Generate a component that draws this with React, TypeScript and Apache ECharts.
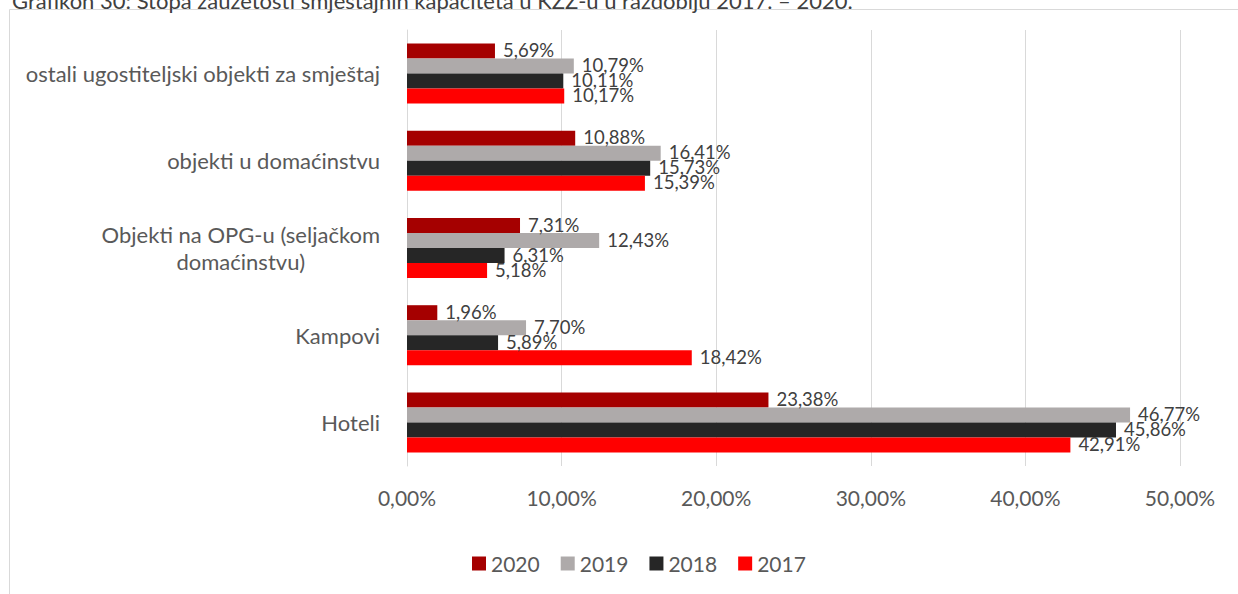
import React, { useEffect, useRef } from "react";
import * as echarts from "echarts";

const titleText = "Grafikon 30: Stopa zauzetosti smještajnih kapaciteta u KZŽ-u u razdoblju 2017. – 2020.";
const categories = [
  "Hoteli",
  "Kampovi",
  "Objekti na OPG-u (seljačkom\ndomaćinstvu)",
  "objekti u domaćinstvu",
  "ostali ugostiteljski objekti za smještaj",
];
const years = ["2020", "2019", "2018", "2017"];
const values2020 = [23.38, 1.96, 7.31, 10.88, 5.69];
const values2019 = [46.77, 7.7, 12.43, 16.41, 10.79];
const values2018 = [45.86, 5.89, 6.31, 15.73, 10.11];
const values2017 = [42.91, 18.42, 5.18, 15.39, 10.17];
const seriesValues = [values2020, values2019, values2018, values2017];
const colors = ["#A50000", "#AEAAAA", "#262626", "#FF0000"];

const FONT = "Lato, 'Open Sans', sans-serif";
const fmt = (v: number) => v.toFixed(2).replace(".", ",") + "%";

export default function App() {
  const ref = useRef<HTMLDivElement>(null);
  useEffect(() => {
    if (!ref.current) return;
    const chart = echarts.init(ref.current, undefined, { renderer: "svg" });
    chart.setOption({
      animation: false,
      backgroundColor: "#ffffff",
      textStyle: { fontFamily: FONT },
      graphic: [
        {
          type: "rect",
          shape: { x: 9.5, y: 9.5, width: 1300, height: 700 },
          style: { fill: "none", stroke: "#d9d9d9", lineWidth: 1 },
          silent: true,
        },
        {
          type: "text",
          x: 12,
          y: 11,
          style: {
            text: titleText,
            font: `22px ${FONT}`,
            fill: "#404040",
            verticalAlign: "bottom",
          },
        },
      ],
      legend: {
        data: years,
        left: 467,
        top: 548,
        icon: "rect",
        itemWidth: 14,
        itemHeight: 14,
        itemGap: 21,
        textStyle: { fontSize: 21, color: "#595959", fontFamily: FONT },
      },
      grid: { left: 407, right: 58, top: 30, bottom: 128, containLabel: false },
      xAxis: {
        type: "value",
        min: 0,
        max: 50,
        interval: 10,
        axisLine: { show: false },
        axisTick: { show: false },
        splitLine: { show: true, lineStyle: { color: "#d9d9d9", width: 1 } },
        axisLabel: {
          formatter: (v: number) => fmt(v),
          color: "#595959",
          fontSize: 21,
          margin: 21,
          fontFamily: FONT,
        },
      },
      yAxis: {
        type: "category",
        data: categories,
        axisLine: { show: true, lineStyle: { color: "#d9d9d9" } },
        axisTick: { show: false },
        axisLabel: {
          color: "#595959",
          fontSize: 22,
          margin: 27,
          align: "right",
          lineHeight: 27,
          fontFamily: FONT,
          formatter: (v: string) =>
            v
              .split("\n")
              .map((l) => `{c|${l}}`)
              .join("\n"),
          rich: {
            c: {
              align: "center",
              color: "#595959",
              fontSize: 22,
              lineHeight: 27,
              fontFamily: FONT,
            },
          },
        },
      },
      series: years.map((y, i) => ({
        name: y,
        type: "bar",
        data: seriesValues[i],
        barWidth: 15,
        barGap: "0%",
        itemStyle: { color: colors[i] },
        label: {
          show: true,
          position: "right",
          distance: 8,
          offset: [0, -1],
          formatter: (p: any) => fmt(p.value),
          color: "#404040",
          fontSize: 18.5,
          fontFamily: FONT,
        },
      })),
    });
    return () => chart.dispose();
  }, []);
  return (
    <div
      ref={ref}
      style={{ position: "absolute", left: 0, top: 0, width: 1238, height: 594 }}
    />
  );
}
